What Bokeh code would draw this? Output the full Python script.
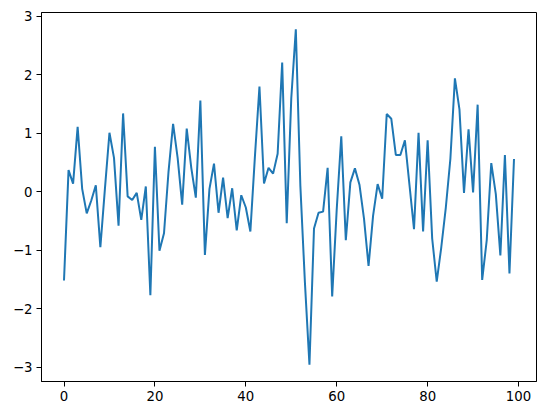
from bokeh.plotting import figure
from bokeh.models import Range1d, FixedTicker
from bokeh.embed import file_html
from bokeh.resources import INLINE

# ---- data ----
x_values = list(range(100))
y_values = [
    -1.52, 0.37, 0.14, 1.11, 0.05, -0.37, -0.15, 0.11, -0.95, 0.05,
    1.01, 0.58, -0.58, 1.34, -0.08, -0.14, -0.02, -0.48, 0.09, -1.77,
    0.77, -1.01, -0.71, 0.35, 1.16, 0.58, -0.22, 1.08, 0.41, -0.10,
    1.56, -1.08, 0.05, 0.48, -0.36, 0.24, -0.45, 0.06, -0.66, -0.06,
    -0.27, -0.68, 0.60, 1.80, 0.14, 0.41, 0.31, 0.65, 2.21, -0.54,
    1.60, 2.78, 0.10, -1.55, -2.96, -0.63, -0.36, -0.34, 0.41, -1.79,
    -0.30, 0.95, -0.83, 0.16, 0.40, 0.12, -0.46, -1.27, -0.41, 0.13,
    -0.12, 1.33, 1.25, 0.63, 0.63, 0.88, 0.12, -0.64, 1.01, -0.68,
    0.88, -0.80, -1.54, -0.95, -0.27, 0.56, 1.94, 1.41, -0.02, 1.07,
    -0.01, 1.49, -1.51, -0.83, 0.49, -0.04, -1.09, 0.63, -1.40, 0.56,
]
x_ticks = [0, 20, 40, 60, 80, 100]
x_tick_labels = ["0", "20", "40", "60", "80", "100"]
y_ticks = [-3, -2, -1, 0, 1, 2, 3]
y_tick_labels = ["\u22123", "\u22122", "\u22121", "0", "1", "2", "3"]

# matplotlib-style 5% margins
def padded(lo, hi, m=0.05):
    d = (hi - lo) * m
    return lo - d, hi + d

xlo, xhi = padded(min(x_values), max(x_values))
ylo, yhi = padded(min(y_values), max(y_values))

p = figure(width=538, height=407, output_backend="svg", toolbar_location=None,
           x_range=Range1d(xlo, xhi), y_range=Range1d(ylo, yhi),
           min_border_left=41, min_border_right=2, min_border_top=12, min_border_bottom=26)

p.line(x_values, y_values, line_color="#1f77b4", line_width=2)

p.xgrid.visible = False
p.ygrid.visible = False
p.background_fill_color = "white"
p.border_fill_color = "white"
p.outline_line_color = "black"
p.outline_line_width = 1

for ax, ticks, labels in ((p.xaxis[0], x_ticks, x_tick_labels), (p.yaxis[0], y_ticks, y_tick_labels)):
    ax.ticker = FixedTicker(ticks=ticks)
    ax.major_label_overrides = {t: l for t, l in zip(ticks, labels)}
    ax.major_tick_in = 0
    ax.major_tick_out = 5
    ax.minor_tick_line_color = None
    ax.major_tick_line_color = "black"
    ax.axis_line_color = "black"
    ax.major_label_text_font = "DejaVu Sans"
    ax.major_label_text_font_size = "13.3px"
    ax.major_label_text_color = "black"
    ax.major_label_standoff = 4

open("out.html", "w").write(file_html(p, INLINE))
